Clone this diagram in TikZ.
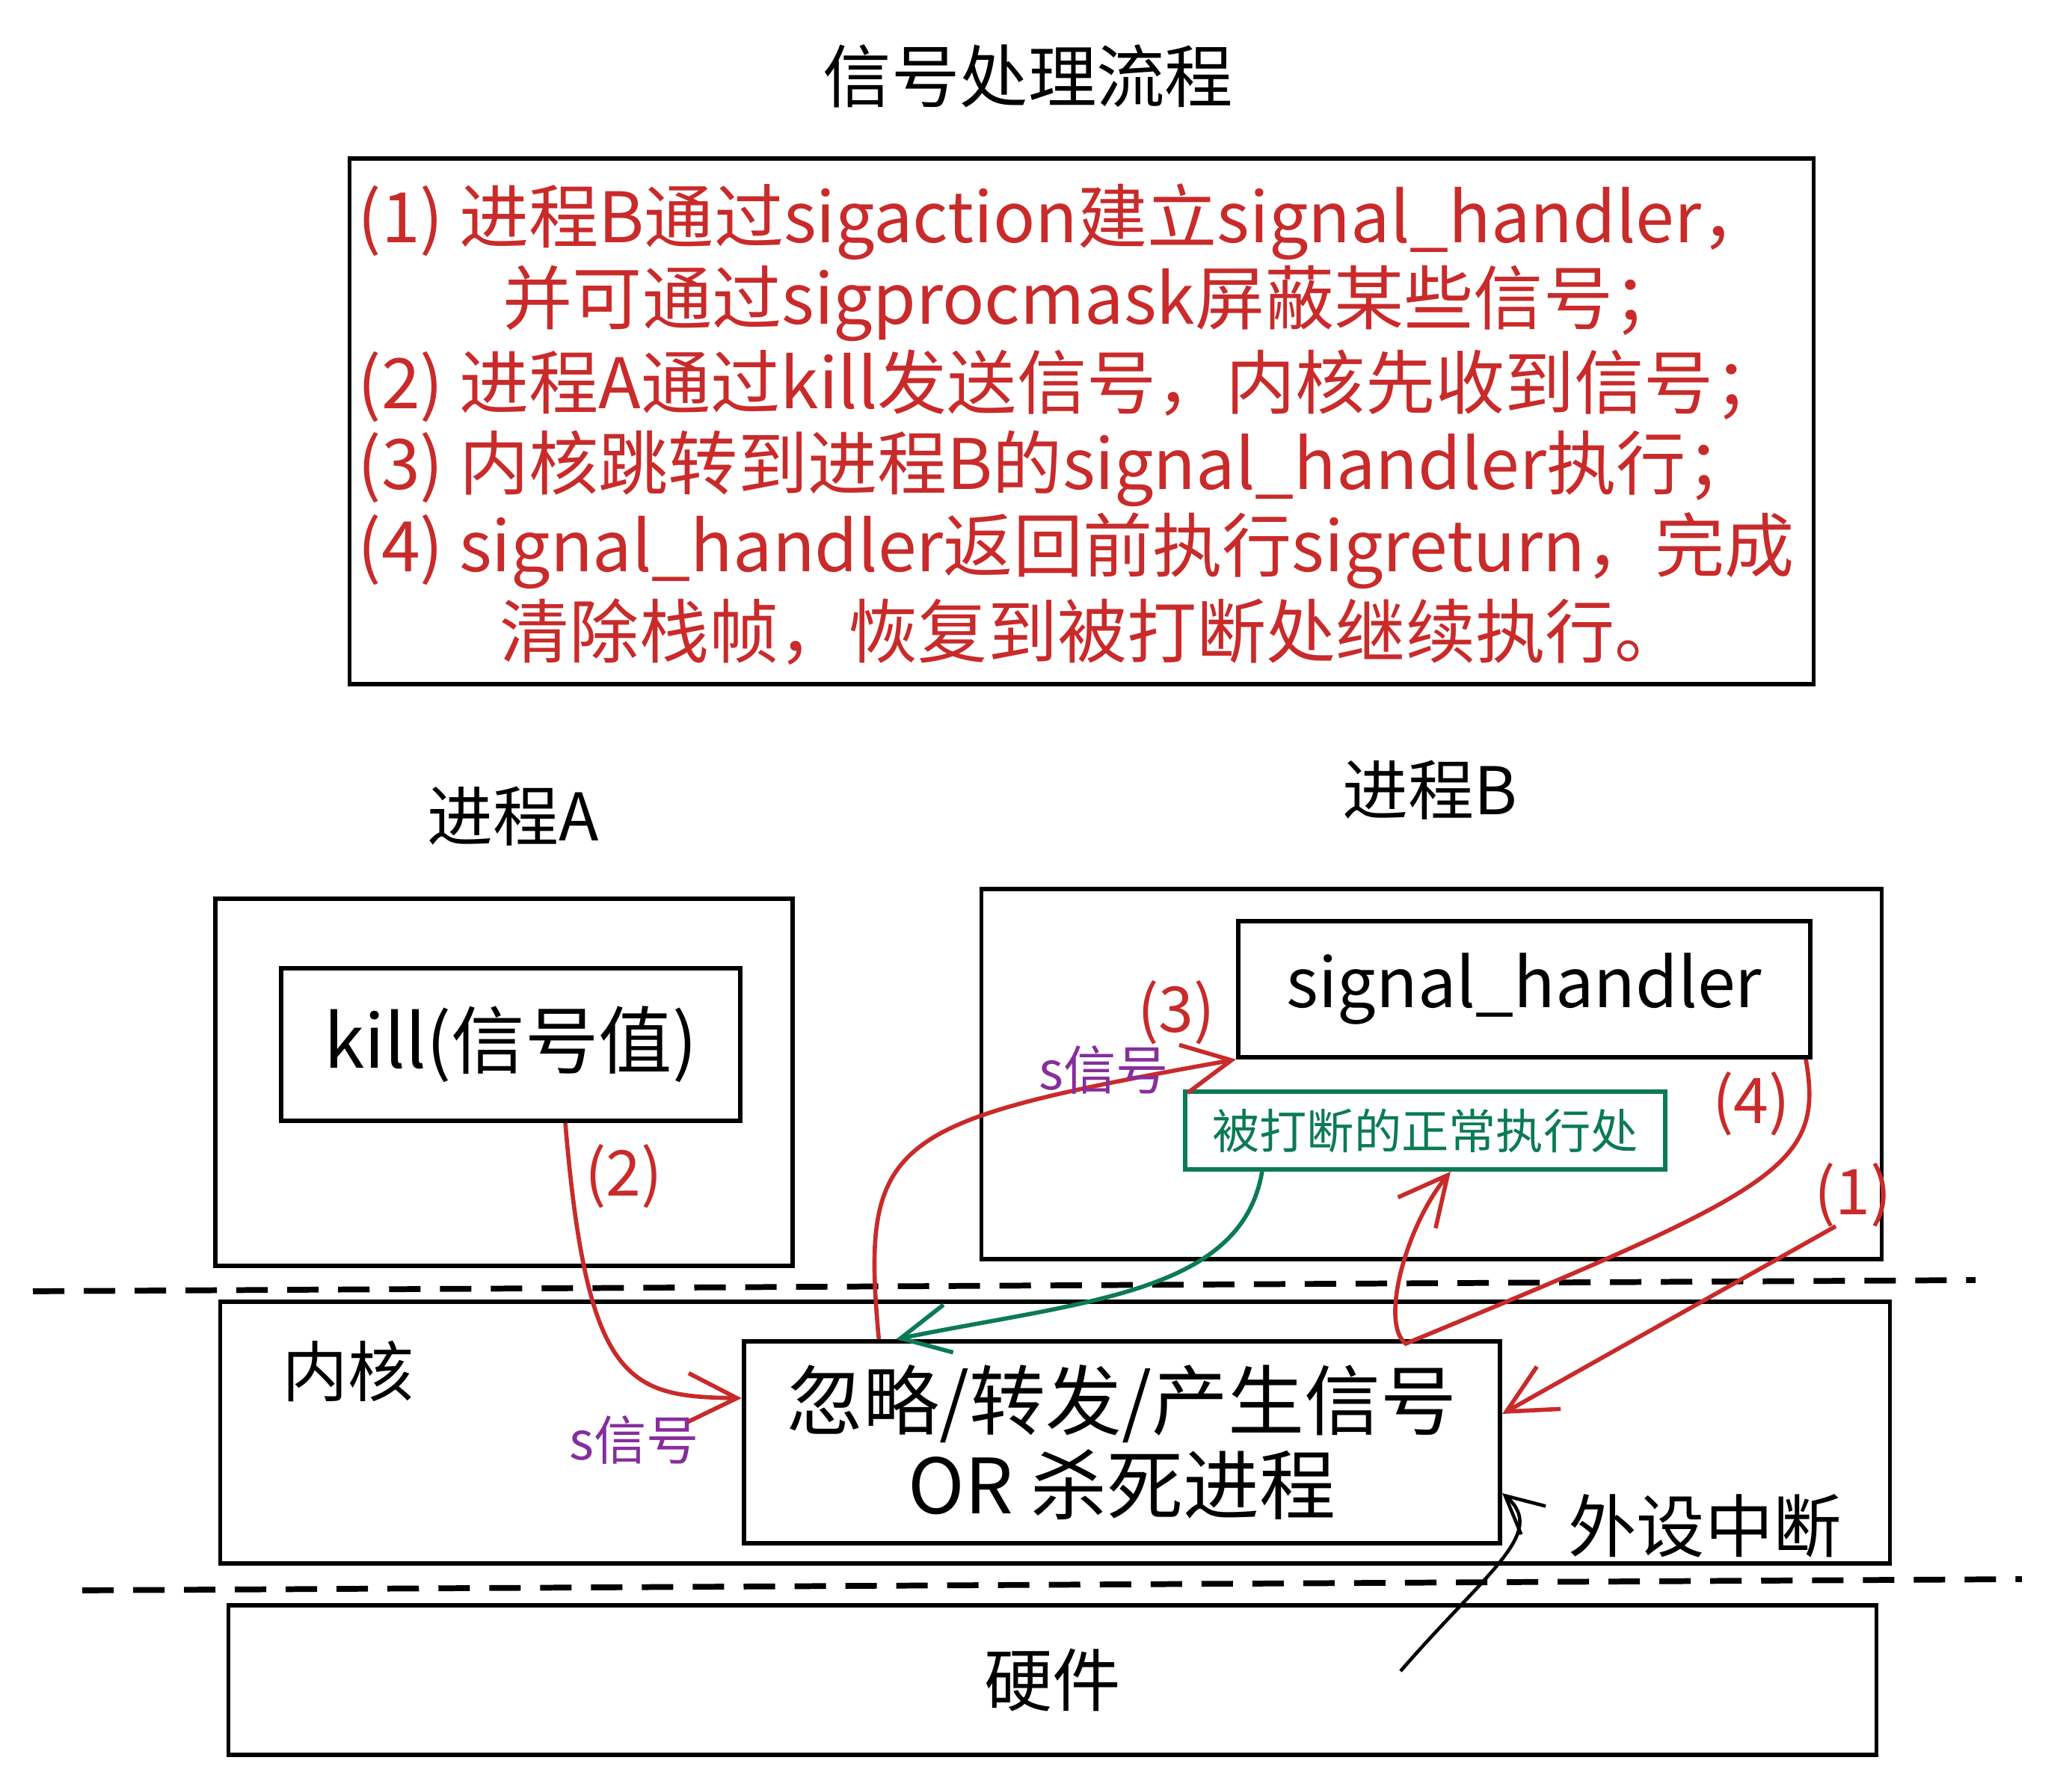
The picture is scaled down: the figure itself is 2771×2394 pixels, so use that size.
\documentclass[tikz,border=0pt]{standalone}
\usepackage{fontspec}
\setmainfont{Noto Sans CJK SC}
\usetikzlibrary{arrows.meta}
\definecolor{hred}{HTML}{C92A2A}
\definecolor{hgreen}{HTML}{0B7A55}
\definecolor{hpurple}{HTML}{862E9C}
\tikzset{
  box/.style={draw, line width=1.6pt, rectangle, inner sep=0pt},
  layer/.style={line width=2.2pt, dash pattern=on 0.42cm off 0.26cm},
  notetxt/.style={hred, font=\fontsize{26.5}{31}\selectfont, anchor=west, inner sep=0pt},
  bigtxt/.style={font=\fontsize{25}{30}\selectfont},
  numlbl/.style={hred, font=\fontsize{24}{28}\selectfont},
  siglbl/.style={hpurple, font=\fontsize{20}{24}\selectfont},
  redarr/.style={hred, line width=1.6pt, -{Straight Barb[length=6.5mm,width=6.5mm]}},
  grnarr/.style={hgreen, line width=1.6pt, -{Straight Barb[length=6.5mm,width=6.5mm]}},
  blkarr/.style={black, line width=1.3pt, -{Straight Barb[length=5mm,width=5mm]}}
}

\begin{document}
\begin{tikzpicture}[x=0.01cm, y=-0.01cm]
\useasboundingbox (0,0) rectangle (2771,2394);

% 标题和说明
\node[font=\fontsize{26}{30}\selectfont] (title) at (1375,102) {信号处理流程};
\node[box, minimum width=19.57cm, minimum height=7.03cm] (notebox) at (1446.5,563.5) {};
\node[notetxt] (note1) at (478,297) {(1) 进程B通过sigaction建立signal\_handler，};
\node[notetxt] (note2) at (672,406) {并可通过sigprocmask屏蔽某些信号；};
\node[notetxt] (note3) at (478,516) {(2) 进程A通过kill发送信号，内核先收到信号；};
\node[notetxt] (note4) at (478,627) {(3) 内核跳转到进程B的signal\_handler执行；};
\node[notetxt] (note5) at (478,737) {(4) signal\_handler返回前执行sigreturn，完成};
\node[notetxt] (note6) at (668,845) {清除栈帧，恢复到被打断处继续执行。};

% 进程A
\node[bigtxt] (lblA) at (686,1092) {进程A};
\node[box, minimum width=7.72cm, minimum height=4.91cm] (procA) at (674,1447.5) {};
\node[box, minimum width=6.14cm, minimum height=2.04cm, font=\fontsize{28}{32}\selectfont] (kill) at (683,1397) {kill(信号值)};

% 进程B
\node[bigtxt] (lblB) at (1912,1057) {进程B};
\node[box, minimum width=12.03cm, minimum height=4.95cm] (procB) at (1914.5,1436.5) {};
\node[box, minimum width=7.65cm, minimum height=1.82cm, font=\fontsize{26}{30}\selectfont] (handler) at (2038.5,1323) {signal\_handler};
\node[box, draw=hgreen, text=hgreen, minimum width=6.42cm, minimum height=1.04cm, font=\fontsize{18}{22}\selectfont] (green) at (1906,1512) {被打断的正常执行处};

% 分层虚线
\draw[layer] (44,1727) -- (2642,1712);
\draw[layer] (110,2127) -- (2704,2112);

% 内核
\node[box, minimum width=22.32cm, minimum height=3.50cm] (kernel) at (1411,1916) {};
\node[bigtxt] (lblK) at (465,1834) {内核};
\node[box, minimum width=10.11cm, minimum height=2.70cm, align=center, font=\fontsize{29}{32}\selectfont] (core) at (1500.5,1929) {忽略/转发/产生信号\\OR 杀死进程};

% 硬件
\node[box, minimum width=22.03cm, minimum height=2.00cm, font=\fontsize{26}{30}\selectfont] (hw) at (1407.5,2247) {硬件};
\node[font=\fontsize{26}{30}\selectfont] (lblIrq) at (2280,2041) {外设中断};

% 箭头
\coordinate (src1) at (2455,1640);
\coordinate (irq) at (1873,2235);
\draw[redarr] ([xshift=0.73cm]kill.south) .. controls (785,1850) and (840,1868) .. ([yshift=0.59cm]core.west); % (2)
\draw[redarr] ([xshift=-3.25cm]core.north) .. controls (1150,1520) and (1190,1500) .. (handler.south west); % (3)
\draw[redarr] ([xshift=-0.09cm]handler.south east) .. controls (2440,1560) and (2380,1590) .. (1880,1797)
  .. controls (1845,1770) and (1880,1640) .. ([xshift=0.34cm]green.south); % (4)
\draw[grnarr] ([xshift=-2.18cm]green.south) .. controls (1660,1730) and (1450,1740) .. ([xshift=-3.02cm]core.north);
\draw[redarr] (src1) -- ([yshift=0.38cm]core.east); % (1)
\draw[blkarr] (irq) .. controls (1990,2100) and (2070,2050) .. ([yshift=-0.68cm]core.east); % 外设中断

% 标号
\node[numlbl] (num1) at (2478,1598) {(1)};
\node[numlbl] (num2) at (834,1573) {(2)};
\node[numlbl] (num3) at (1573,1354) {(3)};
\node[numlbl] (num4) at (2342,1476) {(4)};
\node[siglbl] (sig2) at (848,1926) {s信号};
\node[siglbl] (sig3) at (1476,1431) {s信号};

\end{tikzpicture}
\end{document}
